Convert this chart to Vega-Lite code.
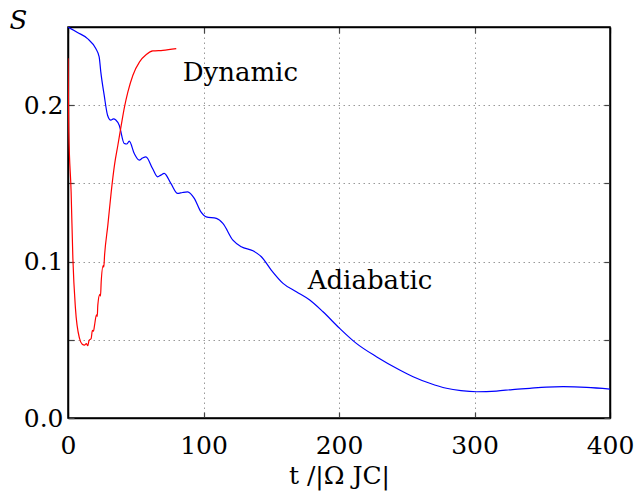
{
  "$schema": "https://vega.github.io/schema/vega-lite/v6.json",
  "width": 542,
  "height": 391,
  "autosize": {"type": "none"},
  "padding": {"left": 68, "top": 27, "right": 32, "bottom": 75},
  "background": "white",
  "config": {
    "view": {"stroke": "black", "strokeWidth": 1.5},
    "font": "DejaVu Serif",
    "axis": {
      "labelFont": "DejaVu Serif",
      "labelFontSize": 25,
      "labelColor": "black",
      "titleFont": "DejaVu Serif",
      "titleColor": "black",
      "titleFontWeight": "normal",
      "titleFontSize": 25,
      "domainColor": "black",
      "domainWidth": 1.5,
      "tickColor": "#444",
      "tickWidth": 1.2,
      "gridColor": "#999",
      "gridDash": [1.5, 3.5],
      "gridWidth": 1
    }
  },
  "datasets": {
    "curves": [
      {"series": "Adiabatic", "t": 0, "S": 0.25},
      {"series": "Adiabatic", "t": 7, "S": 0.2465},
      {"series": "Adiabatic", "t": 14.4, "S": 0.2426},
      {"series": "Adiabatic", "t": 20.5, "S": 0.2362},
      {"series": "Adiabatic", "t": 23, "S": 0.2309},
      {"series": "Adiabatic", "t": 24.2, "S": 0.2213},
      {"series": "Adiabatic", "t": 26.7, "S": 0.2064},
      {"series": "Adiabatic", "t": 29.2, "S": 0.1936},
      {"series": "Adiabatic", "t": 31.6, "S": 0.1904},
      {"series": "Adiabatic", "t": 33.5, "S": 0.1912},
      {"series": "Adiabatic", "t": 35.3, "S": 0.1905},
      {"series": "Adiabatic", "t": 37.8, "S": 0.1872},
      {"series": "Adiabatic", "t": 41.5, "S": 0.1755},
      {"series": "Adiabatic", "t": 43.5, "S": 0.1752},
      {"series": "Adiabatic", "t": 45.2, "S": 0.177},
      {"series": "Adiabatic", "t": 48.9, "S": 0.1691},
      {"series": "Adiabatic", "t": 52.6, "S": 0.1649},
      {"series": "Adiabatic", "t": 55, "S": 0.1662},
      {"series": "Adiabatic", "t": 57.5, "S": 0.167},
      {"series": "Adiabatic", "t": 62.4, "S": 0.1595},
      {"series": "Adiabatic", "t": 66.1, "S": 0.1542},
      {"series": "Adiabatic", "t": 68.5, "S": 0.1553},
      {"series": "Adiabatic", "t": 71, "S": 0.1564},
      {"series": "Adiabatic", "t": 75.9, "S": 0.15},
      {"series": "Adiabatic", "t": 80.9, "S": 0.1436},
      {"series": "Adiabatic", "t": 84.5, "S": 0.1442},
      {"series": "Adiabatic", "t": 88.3, "S": 0.1446},
      {"series": "Adiabatic", "t": 93.2, "S": 0.1404},
      {"series": "Adiabatic", "t": 98.1, "S": 0.1318},
      {"series": "Adiabatic", "t": 102, "S": 0.1286},
      {"series": "Adiabatic", "t": 109.5, "S": 0.1276},
      {"series": "Adiabatic", "t": 114.3, "S": 0.1244},
      {"series": "Adiabatic", "t": 121.7, "S": 0.1137},
      {"series": "Adiabatic", "t": 127.9, "S": 0.1095},
      {"series": "Adiabatic", "t": 136.5, "S": 0.1069},
      {"series": "Adiabatic", "t": 142.7, "S": 0.1031},
      {"series": "Adiabatic", "t": 150, "S": 0.0946},
      {"series": "Adiabatic", "t": 158.7, "S": 0.0861},
      {"series": "Adiabatic", "t": 168.5, "S": 0.0807},
      {"series": "Adiabatic", "t": 178.4, "S": 0.0754},
      {"series": "Adiabatic", "t": 188.2, "S": 0.0679},
      {"series": "Adiabatic", "t": 200.5, "S": 0.0573},
      {"series": "Adiabatic", "t": 212.8, "S": 0.0477},
      {"series": "Adiabatic", "t": 227.6, "S": 0.0392},
      {"series": "Adiabatic", "t": 244.8, "S": 0.0307},
      {"series": "Adiabatic", "t": 254.7, "S": 0.0264},
      {"series": "Adiabatic", "t": 267, "S": 0.0222},
      {"series": "Adiabatic", "t": 279.3, "S": 0.019},
      {"series": "Adiabatic", "t": 290, "S": 0.0175},
      {"series": "Adiabatic", "t": 301.5, "S": 0.0168},
      {"series": "Adiabatic", "t": 316.2, "S": 0.0172},
      {"series": "Adiabatic", "t": 328, "S": 0.0182},
      {"series": "Adiabatic", "t": 340.8, "S": 0.019},
      {"series": "Adiabatic", "t": 353, "S": 0.0197},
      {"series": "Adiabatic", "t": 365.4, "S": 0.02},
      {"series": "Adiabatic", "t": 382.7, "S": 0.0196},
      {"series": "Adiabatic", "t": 400, "S": 0.0185},
      {"series": "Dynamic", "t": 0, "S": 0.23},
      {"series": "Dynamic", "t": 0.3, "S": 0.205},
      {"series": "Dynamic", "t": 0.6, "S": 0.183},
      {"series": "Dynamic", "t": 2.3, "S": 0.1446},
      {"series": "Dynamic", "t": 3.6, "S": 0.102},
      {"series": "Dynamic", "t": 5.5, "S": 0.0701},
      {"series": "Dynamic", "t": 8.5, "S": 0.0509},
      {"series": "Dynamic", "t": 10.5, "S": 0.0472},
      {"series": "Dynamic", "t": 12.2, "S": 0.0466},
      {"series": "Dynamic", "t": 13.5, "S": 0.0475},
      {"series": "Dynamic", "t": 14.6, "S": 0.0462},
      {"series": "Dynamic", "t": 15.5, "S": 0.0495},
      {"series": "Dynamic", "t": 17.1, "S": 0.0509},
      {"series": "Dynamic", "t": 18, "S": 0.056},
      {"series": "Dynamic", "t": 18.8, "S": 0.0555},
      {"series": "Dynamic", "t": 19.6, "S": 0.0594},
      {"series": "Dynamic", "t": 21, "S": 0.066},
      {"series": "Dynamic", "t": 21.6, "S": 0.065},
      {"series": "Dynamic", "t": 22, "S": 0.0722},
      {"series": "Dynamic", "t": 23.5, "S": 0.079},
      {"series": "Dynamic", "t": 24, "S": 0.078},
      {"series": "Dynamic", "t": 24.5, "S": 0.0871},
      {"series": "Dynamic", "t": 26, "S": 0.0975},
      {"series": "Dynamic", "t": 26.4, "S": 0.0965},
      {"series": "Dynamic", "t": 27, "S": 0.1042},
      {"series": "Dynamic", "t": 29.4, "S": 0.1233},
      {"series": "Dynamic", "t": 31.9, "S": 0.1446},
      {"series": "Dynamic", "t": 34.3, "S": 0.1617},
      {"series": "Dynamic", "t": 36.8, "S": 0.1744},
      {"series": "Dynamic", "t": 39.3, "S": 0.1872},
      {"series": "Dynamic", "t": 41.7, "S": 0.1989},
      {"series": "Dynamic", "t": 44.2, "S": 0.2085},
      {"series": "Dynamic", "t": 47.9, "S": 0.2192},
      {"series": "Dynamic", "t": 52.8, "S": 0.2277},
      {"series": "Dynamic", "t": 57.8, "S": 0.2324},
      {"series": "Dynamic", "t": 62.6, "S": 0.2347},
      {"series": "Dynamic", "t": 70, "S": 0.2351},
      {"series": "Dynamic", "t": 79.9, "S": 0.2362}
    ],
    "labels": [
      {"t": 84.6, "S": 0.2204, "label": "Dynamic"},
      {"t": 176.9, "S": 0.0875, "label": "Adiabatic"}
    ]
  },
  "layer": [
    {
      "data": {"name": "curves"},
      "mark": {"type": "line", "strokeWidth": 1.2, "clip": true, "interpolate": "monotone"},
      "encoding": {
        "x": {
          "field": "t", "type": "quantitative",
          "scale": {"domain": [0, 400], "nice": false, "zero": false},
          "axis": {
            "orient": "bottom",
            "values": [0, 100, 200, 300, 400],
            "grid": true,
            "tickSize": -6,
            "labelPadding": 21,
            "labelFlush": false,
            "title": "t /|Ω JC|",
            "titlePadding": 5
          }
        },
        "y": {
          "field": "S", "type": "quantitative",
          "scale": {"domain": [0, 0.25], "nice": false, "zero": false},
          "axis": {
            "orient": "left",
            "values": [0, 0.05, 0.1, 0.15, 0.2],
            "grid": true,
            "tickSize": -6,
            "labelPadding": 11,
            "labelFlush": false,
            "format": ".1f",
            "labelExpr": "abs(datum.value*10 - round(datum.value*10)) < 0.001 ? datum.label : ''",
            "title": "S",
            "titleFontSize": 26,
            "titleAngle": 0,
            "titleX": -50,
            "titleY": -7,
            "titleAlign": "center",
            "titleBaseline": "middle",
            "titleFontStyle": "italic"
          }
        },
        "color": {
          "field": "series", "type": "nominal",
          "scale": {"domain": ["Adiabatic", "Dynamic"], "range": ["#0000ff", "#ff0000"]},
          "legend": null
        }
      }
    },
    {
      "data": {"name": "labels"},
      "mark": {"type": "text", "align": "left", "baseline": "middle", "font": "DejaVu Serif", "fontSize": 26, "color": "black"},
      "encoding": {
        "x": {
          "field": "t", "type": "quantitative",
          "axis": {"orient": "top", "values": [0, 100, 200, 300, 400], "labels": false, "grid": false, "tickSize": -6, "title": null}
        },
        "y": {
          "field": "S", "type": "quantitative",
          "axis": {"orient": "right", "values": [0, 0.05, 0.1, 0.15, 0.2], "labels": false, "grid": false, "tickSize": -6, "title": null}
        },
        "text": {"field": "label", "type": "nominal"}
      }
    }
  ],
  "resolve": {"axis": {"x": "independent", "y": "independent"}}
}
